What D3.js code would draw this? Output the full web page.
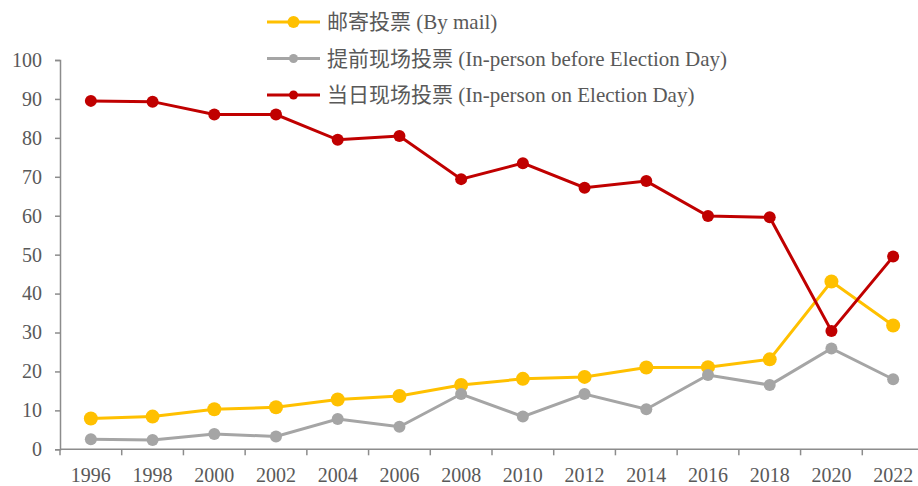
<!DOCTYPE html>
<html>
<head>
<meta charset="utf-8">
<script src="https://cdn.jsdelivr.net/npm/d3@7"></script>
<style>
  body { margin: 0; background: #fff; }
  text { font-family: "Liberation Serif", "Noto Sans CJK SC", serif; fill: #595959; }
</style>
</head>
<body>
<div id="chart"></div>
<script>
// Data
const years = ["1996", "1998", "2000", "2002", "2004", "2006", "2008", "2010", "2012", "2014", "2016", "2018", "2020", "2022"];
const byMail = [7.9, 8.4, 10.3, 10.8, 12.8, 13.7, 16.5, 18.1, 18.6, 21.0, 21.1, 23.1, 43.1, 31.8];
const earlyInPerson = [2.6, 2.4, 3.9, 3.3, 7.8, 5.8, 14.2, 8.4, 14.2, 10.3, 19.1, 16.5, 25.9, 18.0];
const electionDay = [89.5, 89.3, 86.0, 86.0, 79.5, 80.5, 69.4, 73.5, 67.2, 68.9, 59.9, 59.6, 30.4, 49.5];
const yTicks = [0, 10, 20, 30, 40, 50, 60, 70, 80, 90, 100];

const series = [
    { name: "邮寄投票 (By mail)", values: byMail, color: "#FFC000", r: 7, lr: 6 },
    { name: "提前现场投票 (In-person before Election Day)", values: earlyInPerson, color: "#A5A5A5", r: 6, lr: 4.5 },
    { name: "当日现场投票 (In-person on Election Day)", values: electionDay, color: "#C00000", r: 6, lr: 4.5 }
];

const W = 918, H = 486;
const svg = d3.select("#chart").append("svg")
    .attr("width", W)
    .attr("height", H);

// Scales
const x = d3.scaleBand()
    .domain(years)
    .range([60, 924]);

const y = d3.scaleLinear()
    .domain([0, 100])
    .range([449.3, 60]);

const axisColor = "#8c8c8c";

// Y axis
const yAxis = svg.append("g")
    .attr("transform", "translate(60,0)")
    .call(d3.axisLeft(y).tickValues(yTicks).tickSize(5).tickPadding(13));
yAxis.select(".domain").attr("stroke", axisColor).attr("stroke-width", 1.5);
yAxis.selectAll(".tick line").attr("stroke", axisColor).attr("stroke-width", 1.5);
yAxis.selectAll(".tick text").attr("font-size", 20).attr("fill", "#595959")
    .style("font-family", "'Liberation Serif', serif");

// X axis: baseline plus ticks between categories
const xAxis = svg.append("g").attr("transform", `translate(0,${y(0)})`);
xAxis.append("line")
    .attr("x1", 60).attr("x2", W)
    .attr("stroke", axisColor).attr("stroke-width", 1.5);
xAxis.selectAll("line.tk")
    .data(years)
    .join("line")
    .attr("class", "tk")
    .attr("x1", d => x(d)).attr("x2", d => x(d))
    .attr("y1", 0).attr("y2", 6)
    .attr("stroke", axisColor).attr("stroke-width", 1.5);
xAxis.selectAll("text")
    .data(years)
    .join("text")
    .attr("x", d => x(d) + x.bandwidth() / 2)
    .attr("y", 33)
    .attr("text-anchor", "middle")
    .attr("font-size", 20)
    .text(d => d);

// Lines and markers
const line = d3.line()
    .x((d, i) => x(years[i]) + x.bandwidth() / 2)
    .y(d => y(d));

series.forEach(s => {
    const g = svg.append("g");
    g.append("path")
        .datum(s.values)
        .attr("d", line)
        .attr("fill", "none")
        .attr("stroke", s.color)
        .attr("stroke-width", 3);
    g.selectAll("circle")
        .data(s.values)
        .join("circle")
        .attr("cx", (d, i) => x(years[i]) + x.bandwidth() / 2)
        .attr("cy", d => y(d))
        .attr("r", s.r)
        .attr("fill", s.color);
});

// Legend
const legend = svg.append("g")
    .selectAll("g")
    .data(series)
    .join("g")
    .attr("transform", (d, i) => `translate(267,${22 + i * 36.5})`);

legend.append("line")
    .attr("x1", 0).attr("x2", 53)
    .attr("stroke", d => d.color)
    .attr("stroke-width", 3);

legend.append("circle")
    .attr("cx", 26.5)
    .attr("r", d => d.lr)
    .attr("fill", d => d.color);

legend.append("text")
    .attr("x", 60)
    .attr("dy", "0.35em")
    .attr("font-size", 21)
    .text(d => d.name);
</script>
</body>
</html>
